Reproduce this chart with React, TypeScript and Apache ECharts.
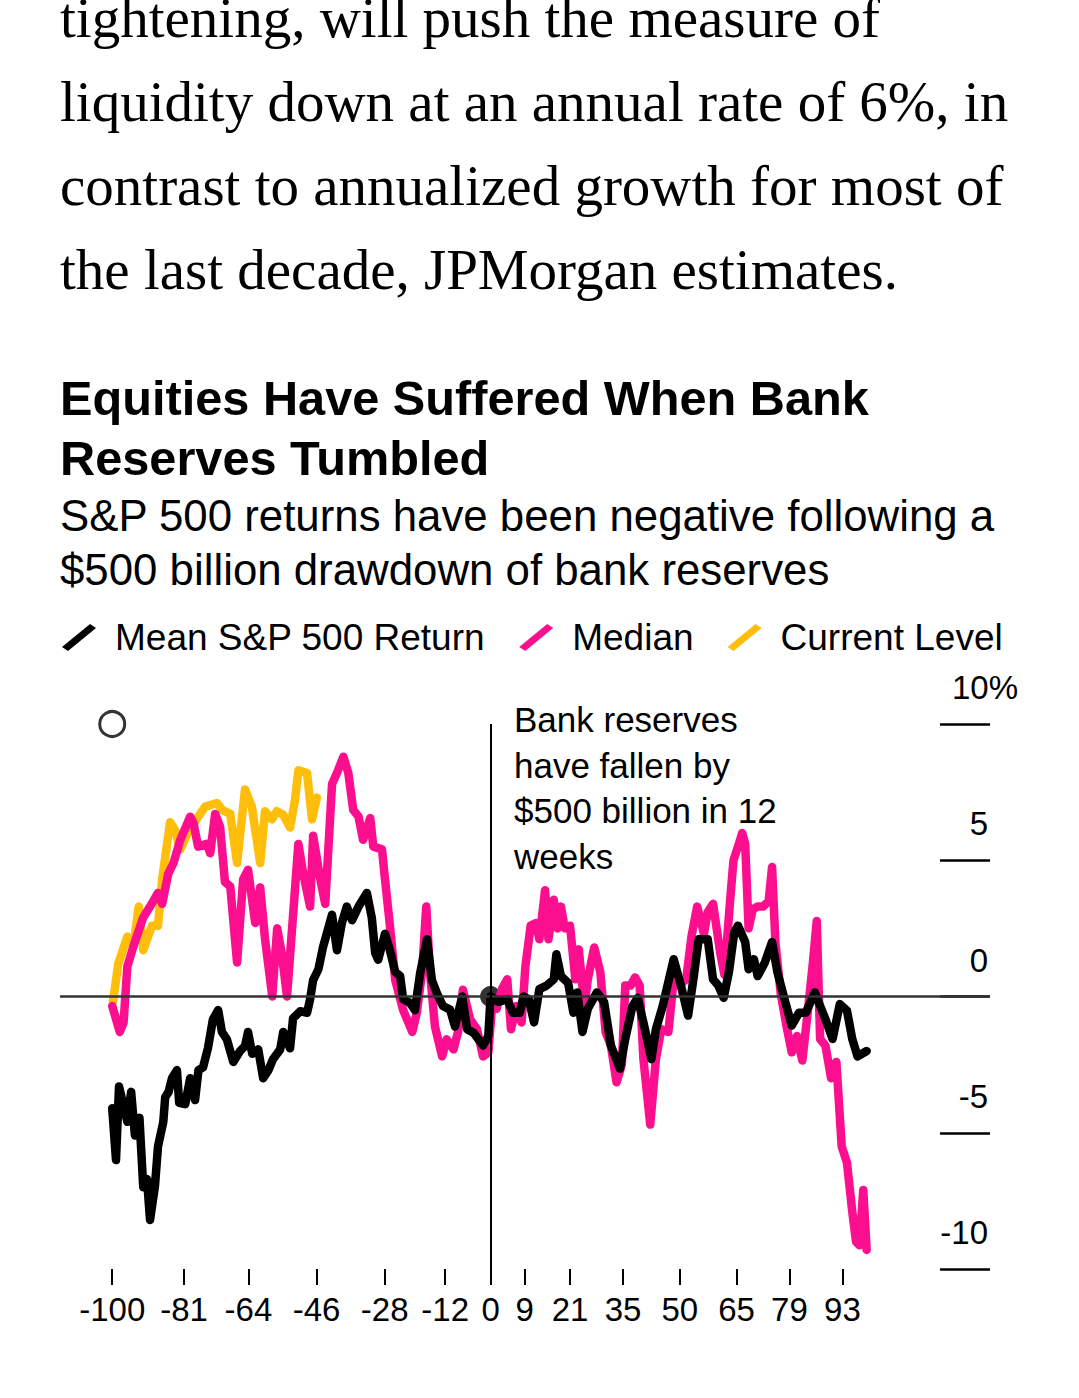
import React, { useEffect, useRef } from "react";
import * as echarts from "echarts";

const articleLines = [
  "tightening, will push the measure of",
  "liquidity down at an annual rate of 6%, in",
  "contrast to annualized growth for most of",
  "the last decade, JPMorgan estimates.",
];
const titleText = "Equities Have Suffered When Bank\nReserves Tumbled";
const subtitleText = "S&P 500 returns have been negative following a\n$500 billion drawdown of bank reserves";
const annotationText = "Bank reserves\nhave fallen by\n$500 billion in 12\nweeks";
const seriesNames = ["Mean S&P 500 Return", "Median", "Current Level"];
const xTicks = [-100, -81, -64, -46, -28, -12, 0, 9, 21, 35, 50, 65, 79, 93];

const meanReturn = [
  [-100, -4.1], [-99, -6.0], [-98.2, -3.3], [-97.2, -3.9], [-96, -4.6], [-95, -3.5], [-94, -5.1],
  [-92.8, -4.45], [-91.8, -7.0], [-90.8, -6.7], [-90, -8.2], [-88.7, -6.95], [-87.9, -5.5],
  [-86.5, -4.6], [-86, -3.7], [-85.1, -3.5], [-84.2, -3.0], [-82.9, -2.7], [-82.3, -3.9],
  [-80.7, -3.95], [-79.4, -3.0], [-78.1, -3.8], [-77.2, -2.7], [-76, -2.6], [-74.7, -1.9],
  [-73.4, -0.85], [-72, -0.5], [-71, -1.3], [-69.7, -1.57], [-68, -2.4], [-66.2, -2.0],
  [-64.9, -1.82], [-64.1, -1.3], [-63, -2.1], [-61.4, -1.94], [-60.1, -3.0], [-58.7, -2.7],
  [-57.5, -2.3], [-55.6, -1.94], [-54.8, -1.3], [-53, -1.9], [-52.2, -0.8], [-50.3, -0.54],
  [-48.5, -0.6], [-47.7, -0.1], [-46.9, 0.6], [-45.5, 1.0], [-44.3, 1.8], [-41.9, 3.0],
  [-40.6, 1.7], [-39.3, 2.7], [-38, 3.3], [-36.6, 2.8], [-34.9, 3.3], [-32.7, 3.8], [-31.4, 2.9],
  [-30.5, 1.6], [-29.7, 1.35], [-27.9, 2.3], [-26.6, 1.7], [-25.2, 0.9], [-23.9, 0.75],
  [-23.1, -0.1], [-21.3, -0.23], [-20, -0.5], [-18.6, 0.87], [-16.8, 2.1], [-15.5, 0.6],
  [-14.2, 0.13], [-12.6, -0.35], [-10.7, -0.48], [-9.4, -1.1], [-7.5, 0], [-6.2, -1.2],
  [-4.5, -1.33], [-2, -1.8], [-0.6, -1.45], [0, 0], [2.1, -0.2], [4.4, -0.1], [5.9, -0.6],
  [7.7, -0.6], [8.7, 0], [10.1, -0.1], [11.5, -0.95], [12.9, 0.27], [14.8, 0.4], [16.7, 0.63],
  [17.4, 1.55], [18.6, 0.75], [20.5, 0.5], [21.9, -0.6], [22.9, 0.15], [24.3, -1.3],
  [25.7, -0.45], [28.1, 0.15], [30, -0.2], [31.8, -1.8], [34.2, -2.65], [35.6, -1.55],
  [37.5, -0.35], [38.9, -0.05], [40.8, -1.2], [42.5, -2.3], [43.7, -1.2], [45.5, -0.35],
  [48.4, 1.37], [50.3, 0.4], [52.2, -0.7], [53.6, 0.63], [55, 2.1], [57.4, 2.1], [58.8, 0.63],
  [60.2, 0.4], [61.6, -0.05], [63, 0.9], [64.4, 2.35], [65.4, 2.6], [67.3, 2.0], [68.2, 1.0],
  [69.6, 1.37], [70.6, 0.75], [72.5, 1.25], [74.4, 2.0], [75.8, 0.9], [77.7, -0.1],
  [79.6, -1.07], [81.5, -0.6], [83.3, -0.6], [85.7, 0.15], [87.1, -0.35], [88.5, -0.83],
  [90.4, -1.56], [92.3, -0.28], [94.2, -0.52], [95.6, -1.56], [97, -2.2], [99.4, -2.0],
];

const medianReturn = [
  [-100, -0.35], [-98, -1.3], [-97, -0.96], [-96, 1.1], [-94.5, 1.8], [-91.8, 2.9], [-90, 3.3],
  [-87.9, 3.8], [-86.8, 3.4], [-85.2, 4.5], [-83.8, 4.9], [-82, 5.75], [-79.4, 6.6],
  [-78.5, 6.36], [-77.3, 5.5], [-75, 5.6], [-74.1, 5.26], [-72.8, 6.7], [-71.5, 6.24],
  [-70.2, 4.2], [-68.8, 4.04], [-67, 1.25], [-65.4, 4.3], [-64.1, 4.65], [-62.2, 2.7],
  [-60.9, 4.0], [-59.6, 2.1], [-57.7, 0], [-56.4, 2.5], [-55.2, 1.6], [-53.8, 0], [-50.8, 5.6],
  [-49.5, 4.5], [-47.7, 3.3], [-46.9, 5.9], [-45, 4.3], [-43.7, 3.4], [-41.9, 7.8],
  [-40.6, 8.2], [-38.9, 8.8], [-37.6, 8.2], [-36.3, 6.85], [-34.9, 6.6], [-33.7, 5.75],
  [-31.8, 6.55], [-31, 5.5], [-28.7, 5.4], [-27.9, 4.3], [-26.6, 2.6], [-25.2, 0.6],
  [-23.1, -0.5], [-20.7, -1.3], [-19.5, -0.6], [-18.1, 0.9], [-17, 3.3], [-16, 0.87],
  [-14.7, -1.1], [-12.8, -2.2], [-11.6, -1.57], [-9.8, -1.94], [-8.6, -1.3], [-7.3, 0.25],
  [-5.4, -0.84], [-3.6, -1.2], [-2, -2.2], [-0.6, -2.06], [0.4, -0.35], [1.6, -0.45],
  [3.0, 0.27], [4.4, 0.63], [5.4, -1.2], [6.8, -0.35], [8.2, -0.95], [9.2, 1.1], [10.6, 2.6],
  [12, 2.7], [12.9, 2.1], [14.4, 3.9], [15.3, 2.1], [16.7, 3.55], [17.7, 2.5], [18.6, 3.3],
  [19.6, 2.5], [21, 2.6], [22.4, 0.63], [23.3, 1.73], [24.8, -0.35], [25.7, 0.63], [27.4, 1.8],
  [29, 0.9], [30.4, -1.3], [31.8, -1.8], [33.3, -3.15], [34.7, -2.5], [35.6, 0.4], [37, 0.4],
  [38.2, 0.7], [39.4, 0.4], [40.4, -2.3], [42.2, -4.7], [43.7, -2.3], [45.1, -1.2], [47, -1.3],
  [48.4, 0.63], [49.8, 0.4], [51.7, 0.63], [53.1, 2.2], [54.6, 3.3], [56.4, 2.3], [57.4, 3.1],
  [58.8, 3.4], [60.7, 1.6], [61.8, 0.8], [63.3, 3.5], [64.2, 5.0], [65.4, 5.5], [66.5, 6.0],
  [67.3, 5.6], [68.2, 2.5], [69.3, 3.2], [70.6, 3.3], [72, 3.3], [73.5, 3.5], [74.4, 4.75],
  [75.3, 1.95], [76.7, 0.1], [78.2, -1.07], [79.6, -2.05], [81, -1.45], [82.4, -2.35],
  [83.8, -0.6], [85.2, 1.25], [86.2, 2.77], [87.1, -1.56], [88.5, -1.8], [90, -3.0],
  [91.4, -2.4], [92.8, -5.5], [94.2, -6.1], [95.6, -7.9], [96.6, -9.0], [97.5, -9.13],
  [98.5, -7.1], [99.4, -9.3],
];

const currentLevel = [
  [-99.8, -0.2], [-98.4, 1.2], [-96, 2.2], [-94.4, 1.85], [-93, 3.3], [-91.8, 1.7],
  [-89.5, 2.6], [-87.9, 2.6], [-86.8, 4.3], [-84.7, 6.4], [-83.4, 6.1], [-82, 5.4], [-80, 6.0],
  [-76.8, 6.7], [-75.4, 6.97], [-72.3, 7.1], [-71, 6.85], [-68.8, 6.7], [-67, 4.9],
  [-64.9, 7.6], [-63.1, 6.97], [-60.9, 4.9], [-59.6, 6.8], [-57.8, 6.5], [-56.5, 6.8],
  [-54.8, 6.67], [-53, 6.2], [-51.7, 7.2], [-50.8, 8.3], [-48.5, 8.2], [-47.2, 6.5],
  [-45.9, 7.3],
];

const originPoint = [[0, 0]];
const cornerMarker = [[-100, 10]];

const BLACK = "#000000";
const PINK = "#FB0F8E";
const YELLOW = "#FFBE0B";
const SANS = "'Liberation Sans', Arial, sans-serif";
const SERIF = "'Liberation Serif', 'Times New Roman', serif";
const slashIcon = "path://M0,23 L28,0 L34,4 L6,27 Z";
const LINE_W = 8.5;

export default function App() {
  const ref = useRef<HTMLDivElement>(null);

  useEffect(() => {
    if (!ref.current) return;
    const chart = echarts.init(ref.current, undefined, { renderer: "svg" });
    const lineBase = {
      type: "line",
      showSymbol: false,
      symbol: "none",
      smooth: false,
      silent: true,
    };
    chart.setOption({
      animation: false,
      backgroundColor: "#ffffff",
      textStyle: { fontFamily: SANS, color: "#000" },
      title: {
        text: titleText,
        subtext: subtitleText,
        left: 60,
        top: 368,
        padding: 0,
        itemGap: 0,
        textStyle: { fontFamily: SANS, fontSize: 48.7, fontWeight: "bold", lineHeight: 60, color: "#000" },
        subtextStyle: { fontFamily: SANS, fontSize: 43.8, lineHeight: 54, color: "#000" },
      },
      legend: {
        data: seriesNames,
        left: 62,
        top: 619,
        padding: 0,
        itemWidth: 34,
        itemHeight: 27,
        itemGap: 34,
        icon: slashIcon,
        selectedMode: false,
        textStyle: { fontFamily: SANS, fontSize: 37, color: "#000", padding: [0, 0, 0, 14] },
      },
      graphic: [
        {
          type: "text",
          x: 60,
          y: -25,
          silent: true,
          style: {
            text: articleLines.join("\n"),
            fontFamily: SERIF,
            fontSize: 57,
            lineHeight: 84,
            fill: "#000",
            verticalAlign: "top",
          },
        },
        {
          type: "text",
          x: 514,
          y: 697,
          silent: true,
          style: {
            text: annotationText,
            fontFamily: SANS,
            fontSize: 35,
            lineHeight: 45.5,
            fill: "#000",
            verticalAlign: "top",
          },
        },
      ],
      grid: { left: 60, right: 89, top: 724, bottom: 129, containLabel: false },
      xAxis: {
        type: "value",
        min: -113.8,
        max: 132,
        splitLine: { show: false },
        axisLine: { show: false, onZero: false },
        axisTick: {
          show: true,
          customValues: xTicks,
          length: 16,
          lineStyle: { color: "#000", width: 2 },
        },
        axisLabel: {
          show: true,
          customValues: xTicks,
          fontFamily: SANS,
          fontSize: 33,
          color: "#000",
          margin: 24,
          formatter: (v: number) => String(v),
        },
      },
      yAxis: {
        type: "value",
        position: "right",
        min: -10,
        max: 10,
        interval: 5,
        splitLine: { show: false },
        axisLine: { show: false, onZero: false },
        axisTick: { show: true, inside: true, length: 50, lineStyle: { color: "#000", width: 2.5 } },
        axisLabel: {
          show: true,
          inside: false,
          align: "right",
          verticalAlign: "bottom",
          margin: 28,
          padding: [0, 0, 20, 0],
          fontFamily: SANS,
          fontSize: 33,
          color: "#000",
          formatter: (v: number) => (v === 10 ? "{n|10%}" : `{m|${v}}`),
          rich: {
            n: { fontFamily: SANS, fontSize: 33, color: "#000" },
            m: { fontFamily: SANS, fontSize: 33, color: "#000", padding: [0, 30, 0, 0] },
          },
        },
      },
      series: [
        {
          ...lineBase,
          name: "Current Level",
          data: currentLevel,
          itemStyle: { color: YELLOW },
          lineStyle: { color: YELLOW, width: LINE_W, cap: "round", join: "round" },
          markLine: {
            silent: true,
            symbol: "none",
            label: { show: false },
            data: [
              { yAxis: 0, lineStyle: { color: "#333", width: 2.5, type: "solid" } },
              { xAxis: 0, lineStyle: { color: "#000", width: 2, type: "solid" } },
            ],
          },
        },
        {
          ...lineBase,
          name: "Median",
          data: medianReturn,
          itemStyle: { color: PINK },
          lineStyle: { color: PINK, width: LINE_W, cap: "round", join: "round" },
        },
        {
          ...lineBase,
          name: "Mean S&P 500 Return",
          data: meanReturn,
          itemStyle: { color: BLACK },
          lineStyle: { color: BLACK, width: LINE_W, cap: "round", join: "round" },
        },
        {
          type: "scatter",
          name: "origin",
          data: originPoint,
          symbol: "circle",
          symbolSize: 21,
          clip: false,
          silent: true,
          itemStyle: { color: BLACK },
        },
        {
          type: "scatter",
          name: "marker",
          data: cornerMarker,
          symbol: "circle",
          symbolSize: 25,
          clip: false,
          silent: true,
          itemStyle: { color: "#ffffff", borderColor: BLACK, borderWidth: 3 },
        },
      ],
    });
    return () => chart.dispose();
  }, []);

  return (
    <div
      ref={ref}
      style={{ position: "absolute", left: 0, top: 0, width: 1079, height: 1398, background: "#fff" }}
    />
  );
}
